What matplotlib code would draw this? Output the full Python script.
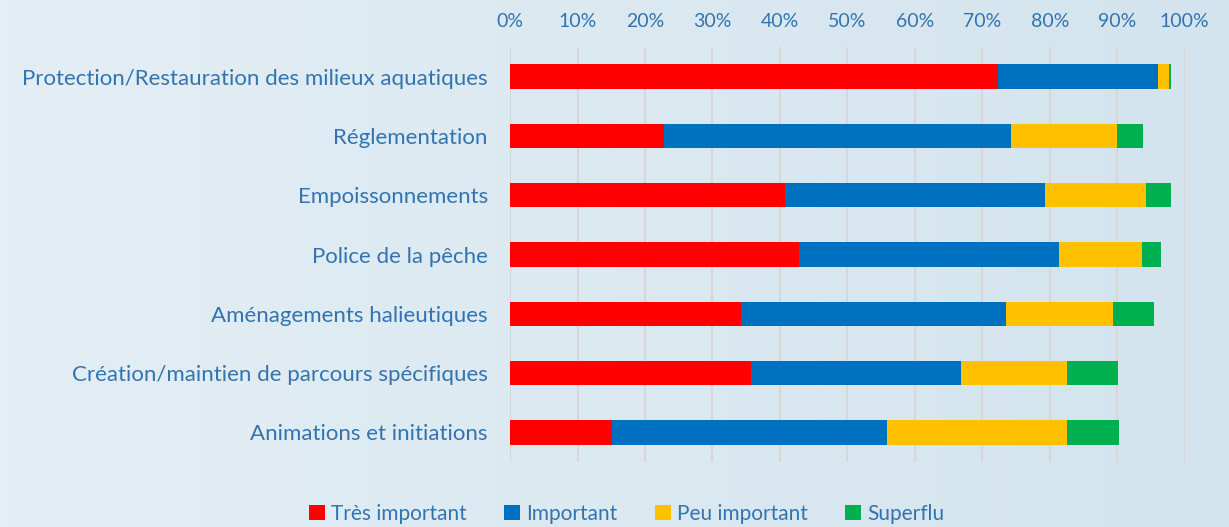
import numpy as np
import matplotlib.pyplot as plt
from matplotlib.patches import Patch

categories = [
    "Protection/Restauration des milieux aquatiques",
    "Réglementation",
    "Empoissonnements",
    "Police de la pêche",
    "Aménagements halieutiques",
    "Création/maintien de parcours spécifiques",
    "Animations et initiations",
]
tres_important = [72.3, 22.8, 40.8, 42.8, 34.3, 35.7, 15.1]
important = [23.7, 51.4, 38.5, 38.6, 39.2, 31.2, 40.8]
peu_important = [1.6, 15.8, 14.9, 12.2, 15.8, 15.7, 26.6]
superflu = [0.3, 3.8, 3.7, 2.9, 6.2, 7.5, 7.7]

series = [
    ("Très important", tres_important, "#ff0000"),
    ("Important", important, "#0070c0"),
    ("Peu important", peu_important, "#ffc000"),
    ("Superflu", superflu, "#00b050"),
]
text_color = "#3274b0"

plt.rcParams['font.family'] = ['Lato', 'DejaVu Sans']

fig = plt.figure(figsize=(12.29, 5.27), dpi=100)

# light blue gradient background
bg = fig.add_axes([0, 0, 1, 1], zorder=-10)
grad = np.linspace(0, 1, 256)
img = np.zeros((2, 256, 3))
c1 = np.array([0xe4, 0xee, 0xf4]) / 255
c2 = np.array([0xd3, 0xe4, 0xee]) / 255
for i in range(256):
    img[:, i, :] = c1 + (c2 - c1) * grad[i]
bg.imshow(img, aspect='auto', extent=[0, 1, 0, 1])
bg.axis('off')

ax = fig.add_axes([0.415, 0.1233, 0.549, 0.7875])
ax.set_facecolor('none')

y = np.arange(len(categories))
left = np.zeros(len(categories))
for name, vals, col in series:
    ax.barh(y, vals, left=left, height=0.41, color=col, label=name, zorder=3)
    left += np.array(vals)

ax.set_xlim(0, 100)
ax.set_ylim(len(categories) - 0.5, -0.5)
ax.set_xticks(np.arange(0, 101, 10))
ax.set_xticklabels([f"{v}%" for v in range(0, 101, 10)])
ax.xaxis.tick_top()
ax.set_yticks(y)
ax.set_yticklabels(categories)
ax.tick_params(axis='both', length=0, colors=text_color)
ax.tick_params(axis='x', pad=12, labelsize=14)
ax.tick_params(axis='y', pad=16, labelsize=16)
ax.grid(axis='x', color='#d8d6d6', linewidth=1.5, zorder=0)
for s in ax.spines.values():
    s.set_visible(False)

handles = [Patch(facecolor=c, label=n) for n, v, c in series]
leg = fig.legend(handles=handles, loc='center', bbox_to_anchor=(0.51, 0.025),
                 ncol=4, frameon=False, fontsize=15, handlelength=0.75,
                 handleheight=0.75, handletextpad=0.3, columnspacing=1.8)
for t in leg.get_texts():
    t.set_color(text_color)

fig.savefig("out.png", dpi=100)
